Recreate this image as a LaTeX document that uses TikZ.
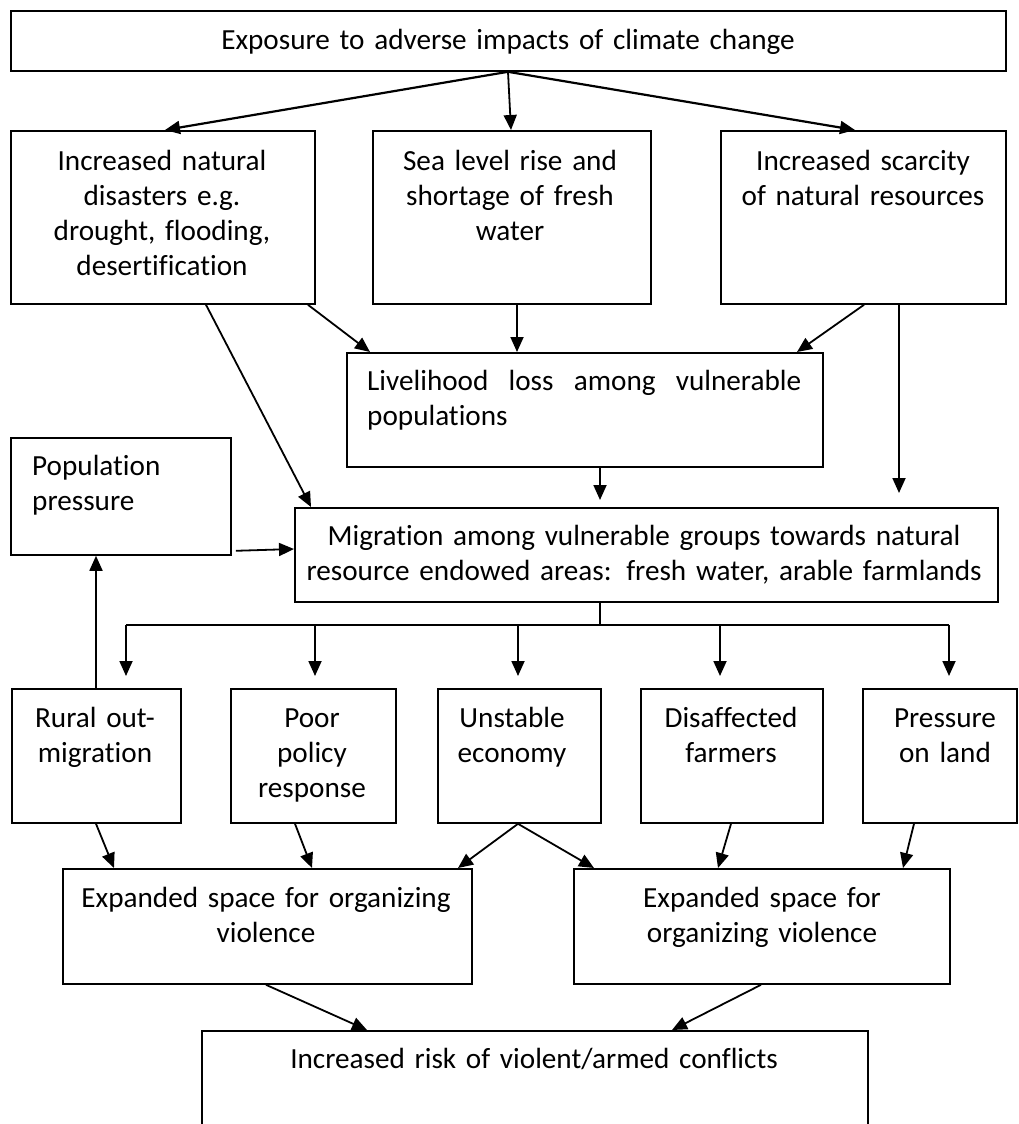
\documentclass[tikz,border=0pt]{standalone}
\usepackage{fontspec}
\setmainfont{Carlito}[Ligatures={NoCommon}]
\usetikzlibrary{arrows.meta,calc}
\begin{document}
\begin{tikzpicture}[x=1pt,y=-1pt,
  box/.style={draw,line width=1.8pt,inner sep=0pt,anchor=north west},
  txt/.style={inner sep=0pt,font=\fontsize{29.2}{35.3}\selectfont,text width=600pt,align=center,anchor=base},
  ltxt/.style={inner sep=0pt,font=\fontsize{29.2}{35.3}\selectfont,anchor=base west},
  arr/.style={line width=1.8pt,-{Triangle[length=15pt,width=13pt]}},
  ln/.style={line width=1.8pt}]
\clip (0,0) rectangle (1018,1124);
% boxes
\node[box,minimum width=995pt,minimum height=60pt] (top) at (10,10) {};
\node[box,minimum width=304pt,minimum height=173pt] (b1) at (10,130) {};
\node[box,minimum width=278pt,minimum height=173pt] (b2) at (372,130) {};
\node[box,minimum width=285pt,minimum height=173pt] (b3) at (720,130) {};
\node[box,minimum width=476pt,minimum height=114pt] (liv) at (346,352) {};
\node[box,minimum width=220pt,minimum height=117pt] (pop) at (10,437) {};
\node[box,minimum width=703pt,minimum height=94pt] (mig) at (294,507) {};
\node[box,minimum width=169pt,minimum height=134pt] (rA) at (11,688) {};
\node[box,minimum width=165pt,minimum height=134pt] (rB) at (230,688) {};
\node[box,minimum width=163pt,minimum height=134pt] (rC) at (437,688) {};
\node[box,minimum width=182pt,minimum height=134pt] (rD) at (640,688) {};
\node[box,minimum width=154pt,minimum height=134pt] (rE) at (862,688) {};
\node[box,minimum width=409pt,minimum height=115pt] (eL) at (62,868) {};
\node[box,minimum width=376pt,minimum height=115pt] (eR) at (573,868) {};
\node[box,minimum width=666pt,minimum height=120pt] (fin) at (201,1030) {};
% texts
\node[txt] (ttop) at (508,49) {Exposure to adverse impacts of climate change};
\node[txt] (tb1) at (162,170) {Increased natural\\disasters e.g.\\drought, flooding,\\desertification};
\node[txt] (tb2) at (510,170) {Sea level rise and\\shortage of fresh\\water};
\node[txt] (tb3) at (863,170) {Increased scarcity\\of natural resources};
\node[ltxt,text width=434pt,align=justify] (tliv) at (367,390) {Livelihood loss among vulnerable\linebreak populations};
\node[ltxt,text width=200pt,align=left] (tpop) at (32,475) {Population\\pressure};
\node[txt,text width=700pt] (tmig) at (644,545) {Migration among vulnerable groups towards natural\\resource endowed areas: fresh water, arable farmlands};
\node[txt] (trA) at (95,727) {Rural out-\\migration};
\node[txt] (trB) at (312,727) {Poor\\policy\\response};
\node[txt] (trC) at (512,727) {Unstable\\economy};
\node[txt] (trD) at (731,727) {Disaffected\\farmers};
\node[txt] (trE) at (945,727) {Pressure\\on land};
\node[txt] (teL) at (266,907) {Expanded space for organizing\\violence};
\node[txt] (teR) at (762,907) {Expanded space for\\organizing violence};
\node[txt] (tfin) at (534,1068) {Increased risk of violent/armed conflicts};
% coordinates
\coordinate (topS) at ($(top.south west)+(498,0)$);
\coordinate (b3end) at (899,493);
\coordinate (livend) at (600,500);
\coordinate (busTop) at ($(mig.south west)+(306,0)$);
\coordinate (bus) at (600,625);
\coordinate (busL) at (126,625);
\coordinate (busR) at (949,625);
\coordinate (dA) at (126,676);
\coordinate (dB) at (315,676);
\coordinate (dC) at (518,676);
\coordinate (dD) at (720,676);
\coordinate (dE) at (949,676);
% arrows from top
\draw[arr,line width=2.2pt] (topS) -- ($(b1.north west)+(155,0)$);
\draw[arr] (topS) -- ($(b2.north west)+(139,0)$);
\draw[arr,line width=2.2pt] (topS) -- ($(b3.north west)+(135,0)$);
% into livelihood
\draw[arr] ($(b1.south west)+(298,0)$) -- ($(liv.north west)+(24,0)$);
\draw[arr] ($(b2.south west)+(145,0)$) -- ($(liv.north west)+(171,0)$);
\draw[arr] ($(b3.south west)+(144,0)$) -- ($(liv.north west)+(451,0)$);
% long arrows
\draw[arr] ($(b1.south west)+(196,0)$) -- ($(mig.north west)+(17,0)$);
\draw[arr] ($(b3.south west)+(179,0)$) -- (b3end);
\draw[arr] ($(liv.south west)+(254,0)$) -- (livend);
\draw[arr] ($(pop.south east)+(4,-5)$) -- ($(mig.north west)+(0,42)$);
% bus
\draw[ln] (busTop) -- (bus);
\draw[ln] (busL) -- (busR);
\draw[arr] (busL) -- (dA);
\draw[arr] ($(busL)+(189,0)$) -- (dB);
\draw[arr] ($(busL)+(392,0)$) -- (dC);
\draw[arr] ($(busL)+(594,0)$) -- (dD);
\draw[arr] (busR) -- (dE);
% feedback
\draw[arr] ($(rA.north west)+(85,0)$) -- ($(pop.south west)+(86,0)$);
% row 4 to row 5
\draw[arr] ($(rA.south west)+(85,0)$) -- ($(eL.north west)+(52,0)$);
\draw[arr] ($(rB.south west)+(65,0)$) -- ($(eL.north west)+(250,0)$);
\draw[arr] ($(rC.south west)+(81,0)$) -- ($(eL.north west)+(396,0)$);
\draw[arr] ($(rC.south west)+(81,0)$) -- ($(eR.north west)+(21,0)$);
\draw[arr] ($(rD.south west)+(91,0)$) -- ($(eR.north west)+(145,0)$);
\draw[arr] ($(rE.south west)+(52,0)$) -- ($(eR.north west)+(330,0)$);
% to final
\draw[arr] ($(eL.south west)+(204,0)$) -- ($(fin.north west)+(166,0)$);
\draw[arr] ($(eR.south west)+(188,0)$) -- ($(fin.north west)+(471,0)$);
\end{tikzpicture}
\end{document}
